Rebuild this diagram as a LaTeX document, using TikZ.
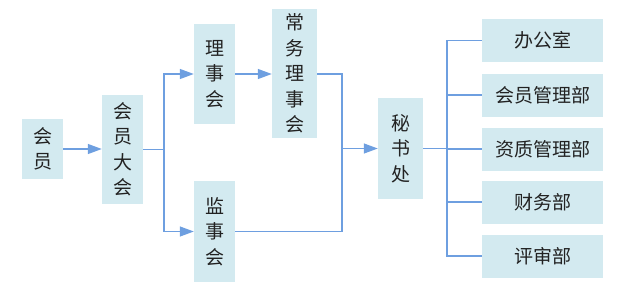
\documentclass[tikz,border=0pt]{standalone}
\usepackage{fontspec}
\setmainfont{Noto Sans CJK SC}
\usetikzlibrary{arrows.meta}
\definecolor{boxfill}{HTML}{D3EAF0}
\definecolor{linec}{HTML}{6E9FE0}
\definecolor{txt}{HTML}{222222}
\begin{document}
\begin{tikzpicture}[x=1pt,y=-1pt,
  box/.style={fill=boxfill,draw=none,inner sep=0pt,text=txt,font=\fontsize{19}{25.5}\selectfont,align=center},
  conn/.style={draw=linec,line width=1.3pt},
  arr/.style={conn,-{Triangle[length=14pt,width=10pt]}}]
\useasboundingbox (0,0) rectangle (617,292);
\node[box,minimum width=41pt,minimum height=60pt] (hy) at (42.5,149) {会\\员};
\node[box,minimum width=41pt,minimum height=109pt] (dh) at (122.5,149.5) {会\\员\\大\\会};
\node[box,minimum width=41pt,minimum height=100pt] (lsh) at (214.5,74) {理\\事\\会};
\node[box,minimum width=45pt,minimum height=129pt] (cw) at (294.5,73.5) {常\\务\\理\\事\\会};
\node[box,minimum width=41pt,minimum height=101pt] (jsh) at (214.5,231.5) {监\\事\\会};
\node[box,minimum width=45pt,minimum height=101pt] (ms) at (400.5,148.5) {秘\\书\\处};
\node[box,minimum width=121pt,minimum height=43pt] (b1) at (542.5,40.5) {办公室};
\node[box,minimum width=121pt,minimum height=43pt] (b2) at (542.5,95) {会员管理部};
\node[box,minimum width=121pt,minimum height=43pt] (b3) at (542.5,149) {资质管理部};
\node[box,minimum width=121pt,minimum height=43pt] (b4) at (542.5,202) {财务部};
\node[box,minimum width=121pt,minimum height=43pt] (b5) at (542.5,256) {评审部};
\coordinate (j1) at (164,149.5);
\coordinate (j2) at (342,148.5);
\coordinate (j3) at (447,148.5);
\draw[arr] (hy.east) -- (hy.east -| dh.west);
\draw[conn] (dh.east) -- (j1);
\draw[arr] (j1) |- (lsh.west);
\draw[arr] (j1) |- (jsh.west);
\draw[arr] (lsh.east) -- (lsh.east -| cw.west);
\draw[conn] (cw.east |- lsh.east) -| (j2);
\draw[conn] (jsh.east) -| (j2);
\draw[arr] (j2) -- (ms.west);
\draw[conn] (ms.east) -- (j3);
\foreach \b in {b1,b2,b3,b4,b5} \draw[conn] (j3) |- (\b.west);
\end{tikzpicture}
\end{document}
